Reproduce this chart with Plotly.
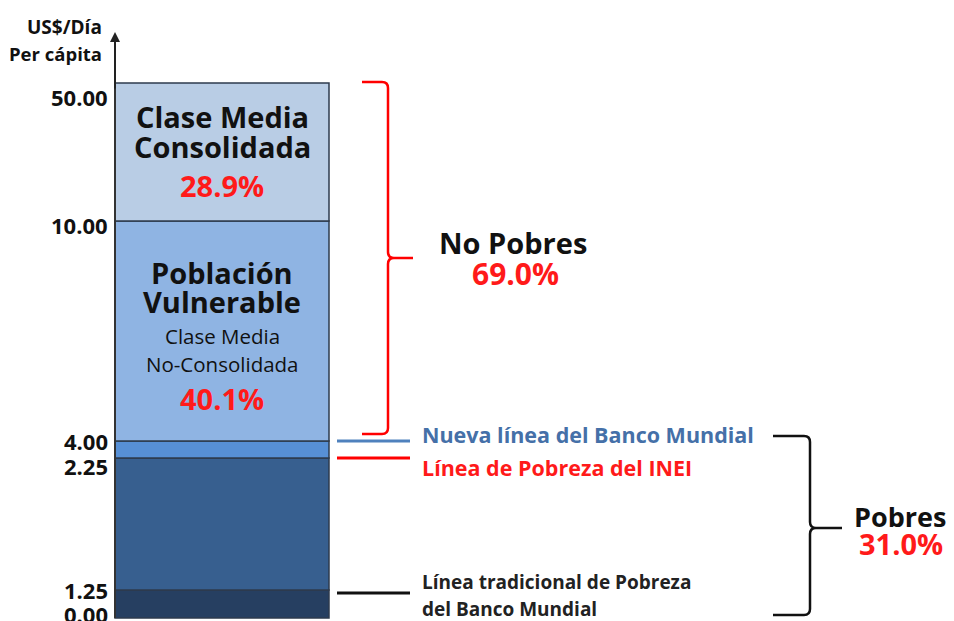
import plotly.graph_objects as go

# ---------------- data ----------------
thresholds = [0.00, 1.25, 2.25, 4.00, 10.00, 50.00]
tick_labels = ["0.00", "1.25", "2.25", "4.00", "10.00", "50.00"]
segments = ["Pobreza extrema tradicional", "Pobres", "Entre líneas", "Población Vulnerable", "Clase Media Consolidada"]
share_consolidada = 28.9
share_vulnerable = 40.1
share_no_pobres = 69.0
share_pobres = 31.0
line_labels = ["Nueva línea del Banco Mundial", "Línea de Pobreza del INEI",
               "Línea tradicional de Pobreza", "del Banco Mundial"]

# ---------------- style / layout ----------------
seg_heights = [28, 132, 17, 220, 138]          # schematic (non-proportional) display heights
seg_colors = ["#263f61", "#375f8f", "#5790d6", "#8fb4e3", "#b9cde5"]
tick_shift = [-4, 0, 8, 0, 4, 14]              # label offsets (px, downwards)
W, H, BASE = 954, 621, 618
PAGE_OFF = 8                                    # default page body margin
FONT = "Open Sans"
BAR_X, BAR_W = 222, 214
BLACK, RED, BLUE = "#111111", "#ff1a1a", "#4570a8"


def Y(py):
    return BASE - py


fig = go.Figure()
bases = [0]
for h in seg_heights[:-1]:
    bases.append(bases[-1] + h)
for name, h, b, c in zip(segments, seg_heights, bases, seg_colors):
    fig.add_trace(go.Bar(x=[BAR_X], y=[h], base=[b], width=[BAR_W], name=name,
                         marker=dict(color=c, line=dict(color="#2e3b4d", width=1.5)),
                         hoverinfo="name", showlegend=False))
bounds = bases + [bases[-1] + seg_heights[-1]]

ann = []
# axis tick labels
for lab, yb, sh in zip(tick_labels, bounds, tick_shift):
    ann.append(dict(x=110, y=yb, yshift=-sh, text=f"<b>{lab}</b>", xanchor="right", yanchor="middle",
                    showarrow=False, font=dict(family=FONT, size=22, color=BLACK)))
ann.append(dict(x=104, y=Y(27), text="<b>US$/Día</b>", xanchor="right", yanchor="middle",
                showarrow=False, font=dict(family=FONT, size=19, color=BLACK)))
ann.append(dict(x=104, y=Y(53), text="<b>Per cápita</b>", xanchor="right", yanchor="middle",
                showarrow=False, font=dict(family=FONT, size=18.5, color=BLACK)))
# axis arrow
ann.append(dict(x=115, y=Y(32), ax=115, ay=Y(90), axref="x", ayref="y", text="", showarrow=True,
                arrowhead=2, arrowsize=1, arrowwidth=2, arrowcolor="#222"))

# labels inside bar
def txt(x, py, s, size, color=BLACK, bold=True, anchor="center"):
    ann.append(dict(x=x, y=Y(py), text=(f"<b>{s}</b>" if bold else s), showarrow=False,
                    xanchor=anchor, yanchor="middle", font=dict(family=FONT, size=size, color=color)))

txt(BAR_X, 116, "Clase Media", 29)
txt(BAR_X, 146, "Consolidada", 29)
txt(BAR_X, 185, f"{share_consolidada:.1f}%", 29, RED)
txt(BAR_X, 272, "Población", 29)
txt(BAR_X, 301, "Vulnerable", 29)
txt(BAR_X, 336, "Clase Media", 20.5, BLACK, False)
txt(BAR_X, 364, "No-Consolidada", 20.5, BLACK, False)
txt(BAR_X, 398, f"{share_vulnerable:.1f}%", 29, RED)

txt(513, 242, "No Pobres", 29)
txt(515, 273, f"{share_no_pobres:.1f}%", 30, RED)
txt(900, 516, "Pobres", 27)
txt(901, 543, f"{share_pobres:.1f}%", 29, RED)

# line labels
txt(420, 434, line_labels[0], 21.5, BLUE, True, "left")
txt(420, 467, line_labels[1], 21.5, RED, True, "left")
txt(420, 582, line_labels[2], 19, "#222", True, "left")
txt(420, 609, line_labels[3], 19, "#222", True, "left")

shapes = []
# y axis line
shapes.append(dict(type="line", x0=115, x1=115, y0=0, y1=Y(40), line=dict(color="#333", width=2)))
# marker lines
shapes.append(dict(type="line", x0=337, x1=410, y0=Y(441), y1=Y(441), line=dict(color="#4f81bd", width=3)))
shapes.append(dict(type="line", x0=337, x1=410, y0=Y(458), y1=Y(458), line=dict(color="#ff0000", width=3)))
shapes.append(dict(type="line", x0=337, x1=410, y0=Y(593), y1=Y(593), line=dict(color="#111", width=3)))


def brace(x_left, x_mid, x_tip, top, mid, bot, r=6):
    p = (f"M {x_left},{Y(top)} L {x_mid - r},{Y(top)} Q {x_mid},{Y(top)} {x_mid},{Y(top + r)} "
         f"L {x_mid},{Y(mid - r)} Q {x_mid},{Y(mid)} {x_mid + r},{Y(mid)} L {x_tip},{Y(mid)} "
         f"M {x_mid + r},{Y(mid)} Q {x_mid},{Y(mid)} {x_mid},{Y(mid + r)} "
         f"L {x_mid},{Y(bot - r)} Q {x_mid},{Y(bot)} {x_mid - r},{Y(bot)} L {x_left},{Y(bot)}")
    return p

shapes.append(dict(type="path", path=brace(362, 388, 413, 82, 258, 434), line=dict(color="#ff0000", width=2.5)))
shapes.append(dict(type="path", path=brace(773, 810, 842, 436, 528, 615), line=dict(color="#111", width=2.5)))

fig.update_layout(
    width=W, height=H, margin=dict(l=0, r=0, t=0, b=0),
    paper_bgcolor="white", plot_bgcolor="white",
    xaxis=dict(range=[PAGE_OFF, W + PAGE_OFF], visible=False, fixedrange=True),
    yaxis=dict(range=[BASE - H - PAGE_OFF, BASE - PAGE_OFF], visible=False, fixedrange=True),
    barmode="overlay", annotations=ann, shapes=shapes,
)
fig.write_html("out.html")
